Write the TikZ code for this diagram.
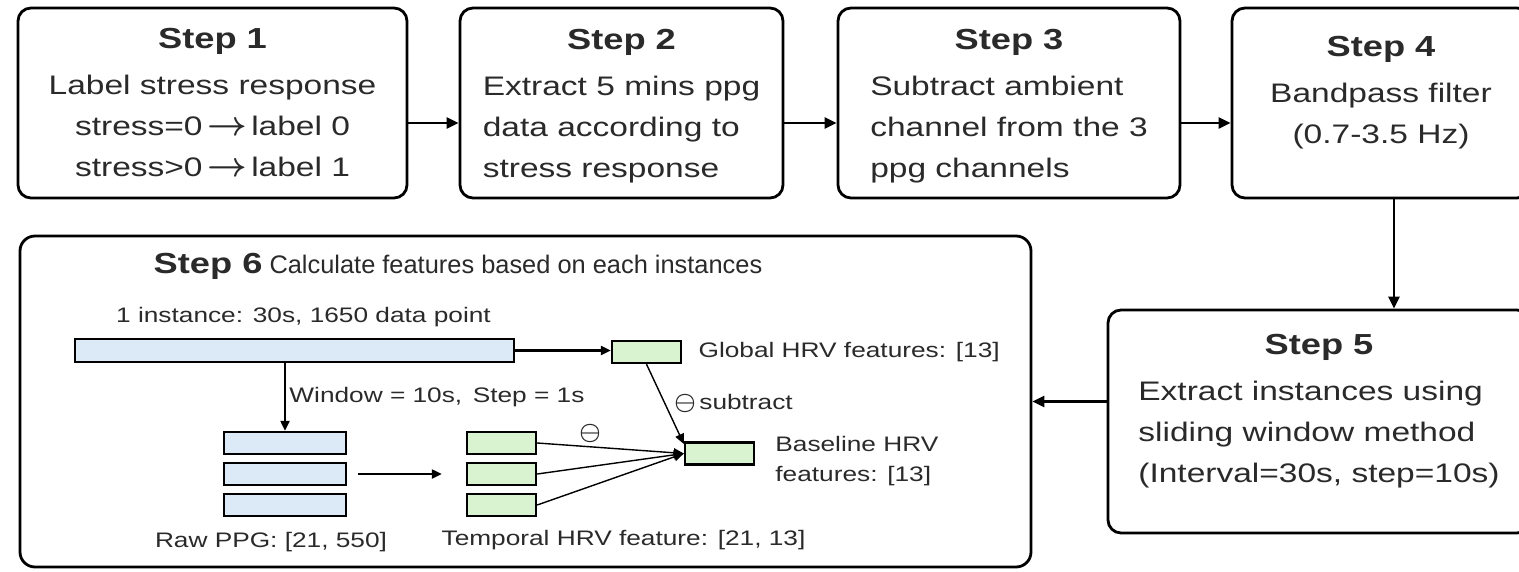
\documentclass[tikz,border=0pt]{standalone}
\usepackage{fontspec}
\setmainfont{Liberation Sans}[FakeStretch=1.25]
\newfontfamily\plainsans{Liberation Sans}
\usetikzlibrary{positioning,arrows.meta,calc}

\definecolor{ppgblue}{HTML}{DCE9F6}
\definecolor{hrvgreen}{HTML}{D9F2D0}
\definecolor{inkgray}{HTML}{2A2A2A}

\newcommand{\steptitle}[1]{{\fontsize{14.5}{20.5}\selectfont\bfseries #1}}
\newcommand{\leftlines}[2][0pt]{\begin{tabular}[t]{@{}l@{}}#2\\[#1]\end{tabular}}
\newcommand{\toarrow}{\,{\fontsize{16.5}{16.5}\selectfont\boldmath$\rightarrow$}\,}
\newcommand{\minussign}{{\fontsize{12.5}{12.5}\selectfont\boldmath$\ominus$}}

\tikzset{
  stepbox/.style={draw, line width=1.4pt, rounded corners=6.5pt, align=center,
    inner sep=0pt, text=inkgray, font=\fontsize{13.4}{20.5}\selectfont},
  flow/.style={-{Triangle[length=6pt,width=5.5pt]}, line width=1.3pt},
  inflow/.style={-{Triangle[length=5pt,width=4.5pt]}, line width=1.1pt},
  fanline/.style={-{Triangle[length=5pt,width=4.5pt]}, line width=0.7pt},
  ppgbar/.style={draw, fill=ppgblue, line width=1.2pt, inner sep=0pt},
  hrvbar/.style={draw, fill=hrvgreen, line width=1.2pt, inner sep=0pt,
    minimum width=34.5pt, minimum height=11pt},
  lbl/.style={inner sep=0pt, text=inkgray, font=\fontsize{10.5}{15}\selectfont},
}

\begin{document}
\begin{tikzpicture}[x=0.5pt,y=-0.5pt]
  \useasboundingbox (0,0) rectangle (1519,572);
  \clip (0,0) rectangle (1519,572);
  \fill[white] (0,0) rectangle (1519,572);

  % top row
  \node[stepbox, minimum width=194.5pt, minimum height=95pt] (s1) at (212.5,103)
    {\steptitle{Step 1}\\[2.5pt]Label stress response\\stress=0\toarrow label 0\\stress>0\toarrow label 1};
  \node[stepbox, minimum width=161.5pt, minimum height=95pt] (s2) at (621.5,103)
    {\steptitle{Step 2}\\[2.5pt]\leftlines[-7pt]{Extract 5 mins ppg\\data according to\\stress response}};
  \node[stepbox, minimum width=171pt, minimum height=95pt] (s3) at (1009,103)
    {\steptitle{Step 3}\\[2.5pt]\leftlines[-7pt]{Subtract ambient\\channel from the 3\\ppg channels}};
  \node[stepbox, minimum width=149pt, minimum height=95pt] (s4) at (1381,103)
    {\steptitle{Step 4}\\[2.5pt]Bandpass filter\\(0.7-3.5 Hz)\\[-7.5pt]\mbox{}};

  % step 5 and step 6
  \node[stepbox, minimum width=211pt, minimum height=111.5pt] (s5) at (1319,421.5)
    {\steptitle{Step 5}\\[2.5pt]\leftlines{Extract instances using\\sliding window method\\(Interval=30s, step=10s)}\\[5.5pt]\mbox{}};
  \node[stepbox, minimum width=505.5pt, minimum height=165.5pt, rounded corners=7.5pt] (s6) at (525.5,401.5) {};
  \node[inner sep=0pt, text=inkgray] (s6title) at (458,266)
    {\steptitle{Step 6}{\plainsans\fontsize{12.7}{15}\selectfont{} Calculate features based on each instances}};

  \draw[flow] ([yshift=-10pt]s1.east) -- ([yshift=-10pt]s2.west);
  \draw[flow] ([yshift=-10pt]s2.east) -- ([yshift=-10pt]s3.west);
  \draw[flow] ([yshift=-10pt]s3.east) -- ([yshift=-10pt]s4.west);
  \draw[flow] ([xshift=6.5pt]s4.south) -- ([xshift=6.5pt]s4.south |- s5.north);
  \draw[flow] (s5.west |- s6.east) -- (s6.east);

  % inside step 6
  \node[ppgbar, minimum width=219.5pt, minimum height=11.5pt] (inst) at (294.5,350.5) {};
  \node[hrvbar] (glob) at (646.5,352) {};
  \node[hrvbar] (base) at (719.5,453.5) {};
  \foreach \i/\y in {1/443,2/474,3/505} {
    \node[ppgbar, minimum width=61pt, minimum height=11pt] (raw\i) at (285,\y) {};
    \node[hrvbar] (temp\i) at (501.5,\y) {};
  }

  \node[lbl] (instlbl) at (303.5,317) {1 instance: 30s, 1650 data point};
  \node[lbl, anchor=west] (winlbl) at (289,397) {Window = 10s,\enspace Step = 1s};
  \node[lbl, right=8pt of glob] (globlbl) {Global HRV features: [13]};
  \node[lbl, anchor=west] (sublbl) at (674,403) {\minussign\,subtract};
  \node[lbl] (minuslbl) at (590,433) {\minussign};
  \node[lbl, anchor=west, align=left] (baselbl) at (775,461) {Baseline HRV\\features: [13]};
  \node[lbl] (rawlbl) at (271,542) {Raw PPG: [21, 550]};
  \node[lbl] (templbl) at (623.5,540) {Temporal HRV feature: [21, 13]};

  \draw[inflow] (inst.east) -- (inst.east -| glob.west);
  \draw[inflow] (inst.south -| raw1.north) -- (raw1.north);
  \draw[inflow, shorten <=5.5pt, shorten >=12pt] (raw2) -- (temp2);
  \foreach \i in {1,2,3}
    \draw[fanline] (temp\i.east) -- (base.west);
  \draw[fanline] (glob.south) -- (base.165);
\end{tikzpicture}
\end{document}
